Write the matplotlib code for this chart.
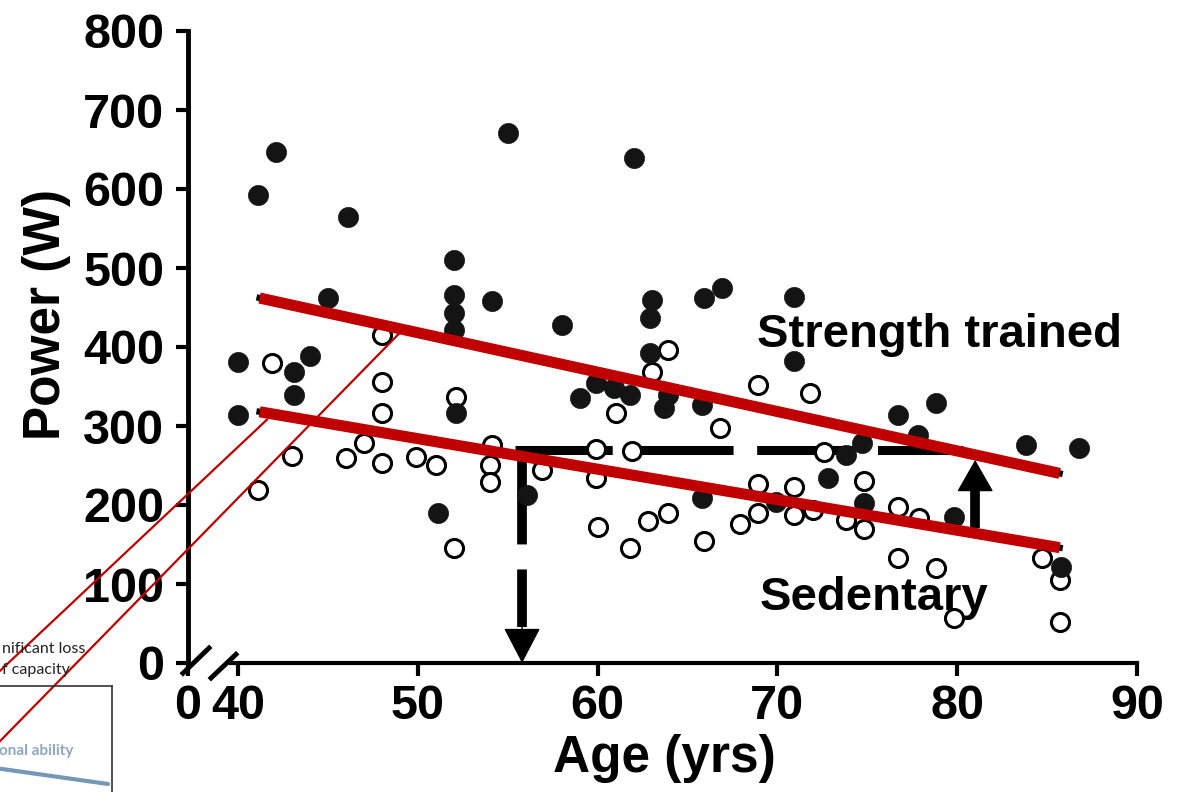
import matplotlib
matplotlib.use('Agg')
import matplotlib.pyplot as plt

plt.rcParams['font.family'] = ['Liberation Sans', 'DejaVu Sans']
plt.rcParams['font.weight'] = 'bold'
plt.rcParams['lines.scale_dashes'] = False

# strength trained (filled circles)
trained_age = [42.1, 41.1, 46.1, 55.0, 52.0, 45.0, 52.0, 52.0, 52.0, 54.1, 58.0,
               40.0, 44.0, 43.1, 43.1, 40.0, 52.1, 56.1, 51.1,
               62.0, 63.0, 62.9, 65.9, 66.9, 70.9, 70.9, 62.9, 59.9, 60.9, 59.0, 61.8, 63.9,
               63.7, 65.8, 76.7, 73.8, 74.7, 65.8, 72.8, 69.9, 74.8,
               78.8, 77.8, 83.8, 86.8, 79.8, 85.8]
trained_power = [647, 592, 565, 671, 510, 462, 466, 443, 422, 458, 428,
                 381, 389, 368, 339, 314, 316, 213, 190,
                 639, 459, 437, 462, 475, 463, 382, 392, 354, 348, 335, 339, 339,
                 323, 327, 314, 263, 278, 209, 234, 204, 203,
                 329, 289, 276, 272, 185, 122]

# sedentary (open circles)
sed_age = [48.0, 41.9, 48.0, 48.0, 52.1, 43.0, 47.0, 46.0, 48.0, 49.9, 51.0, 54.1, 54.0, 54.0,
           56.9, 41.1, 52.0,
           63.9, 63.0, 68.9, 71.8,
           61.0, 66.8, 59.9, 61.9, 72.6, 59.9, 68.9, 70.9, 74.8, 68.9, 70.9, 72.0, 73.8, 74.8,
           76.7, 76.7, 60.0, 62.8, 63.9, 67.9, 61.8, 65.9,
           77.9, 78.8, 84.7, 85.7, 79.8, 85.7]
sed_power = [415, 380, 356, 316, 337, 262, 278, 260, 253, 261, 251, 276, 251, 229,
             244, 219, 146,
             396, 368, 352, 342,
             316, 297, 271, 268, 267, 234, 226, 223, 230, 190, 187, 194, 181, 169,
             197, 133, 172, 180, 190, 176, 146, 154,
             183, 120, 133, 105, 57, 52]

# regression lines (red overlay)
fit_age = [41.2, 85.7]
trained_fit = [462, 240]
sedentary_fit = [318, 146]

# thin red pointer lines
pointer_s_age = [26.76, 41.61]
pointer_s_power = [-10, 308]
pointer_t_age = [26.76, 49.0]
pointer_t_power = [-99, 418]

# dashed guide + arrows
guide_power = 270
guide_age = [55.4, 80.3]
down_age = 55.8
up_age = 81.0
up_from, up_to = 171, 257

x_ticks = [40, 50, 60, 70, 80, 90]
y_ticks = [0, 100, 200, 300, 400, 500, 600, 700, 800]
x_left = 37.22

fig = plt.figure(figsize=(11.79, 7.92), dpi=100)
ax = fig.add_axes([188/1179, 129/792, 949/1179, 632/792])
ax.set_xlim(x_left, 90)
ax.set_ylim(0, 800)

for s in ['top', 'right']:
    ax.spines[s].set_visible(False)
ax.spines['left'].set_linewidth(3.5)
ax.spines['bottom'].set_linewidth(3)
ax.spines['bottom'].set_bounds(39.6, 90)

ax.set_xticks([x_left] + x_ticks)
ax.set_xticklabels(['0'] + [str(t) for t in x_ticks])
ax.set_yticks(y_ticks)
ax.set_yticklabels([str(t) for t in y_ticks])
ax.tick_params(axis='both', direction='out', length=9, width=3, labelsize=35)
ax.tick_params(axis='x', pad=6)
ax.tick_params(axis='y', pad=8)

# axis break marks
ax.plot([36.94, 38.39], [-13, 19], color='black', lw=3.5, clip_on=False, zorder=4)
ax.plot([38.50, 39.89], [-19, 11], color='black', lw=3.5, clip_on=False, zorder=4)

ax.set_xlabel('Age (yrs)', fontsize=37, fontweight='bold')
ax.xaxis.set_label_coords(0.5016, -0.1725)
ax.xaxis.label.set_verticalalignment('baseline')
ax.set_ylabel('Power (W)', fontsize=37, fontweight='bold')
ax.yaxis.set_label_coords(-0.1496, 0.551)
ax.yaxis.label.set_verticalalignment('center')

# dashed guide lines
ax.plot(guide_age, [guide_power, guide_power], color='black', lw=6.5,
        dashes=(70, 17), solid_capstyle='butt', zorder=2)
ax.plot([down_age, down_age], [guide_power, 45], color='black', lw=7,
        dashes=(68, 18), zorder=2)
ax.annotate('', xy=(down_age, 0), xytext=(down_age, 50),
            arrowprops=dict(arrowstyle='-|>,head_length=23,head_width=12',
                            mutation_scale=1, lw=1, color='black',
                            shrinkA=0, shrinkB=0), zorder=2)
ax.plot([up_age, up_age], [up_from, up_to - 30], color='black', lw=7,
        solid_capstyle='butt', zorder=2)
ax.annotate('', xy=(up_age, up_to), xytext=(up_age, up_to - 40),
            arrowprops=dict(arrowstyle='-|>,head_length=21,head_width=12',
                            mutation_scale=1, lw=1, color='black',
                            shrinkA=0, shrinkB=0), zorder=2)

# data points
ax.plot(sed_age, sed_power, 'o', ms=13, mfc='white', mec='black', mew=2.2, zorder=3)
ax.plot(trained_age, trained_power, 'o', ms=14.5, mfc='#141414', mec='#141414', mew=0.5, zorder=3)

# original black fits peeking out under the red overlay
ax.plot(fit_age, trained_fit, color='black', lw=4.5, solid_capstyle='projecting', zorder=4)
ax.plot(fit_age, sedentary_fit, color='black', lw=4.5, solid_capstyle='projecting', zorder=4)
ax.plot(fit_age, trained_fit, color='#c00000', lw=8, solid_capstyle='butt', zorder=5)
ax.plot(fit_age, sedentary_fit, color='#c00000', lw=8, solid_capstyle='butt', zorder=5)

ax.plot(pointer_s_age, pointer_s_power, color='#c00000', lw=1.6, clip_on=False, zorder=6)
ax.plot(pointer_t_age, pointer_t_power, color='#c00000', lw=1.6, clip_on=False, zorder=6)

ax.text(68.87, 400, 'Strength trained', fontsize=34, ha='left', va='baseline')
ax.text(69.03, 67, 'Sedentary', fontsize=34, ha='left', va='baseline')

# cropped slide inset at bottom-left (only the visible part of its text)
fig.text(85/1179, 1 - 653/792, 'nificant loss', fontsize=11.5, fontweight='normal',
         family='Lato', ha='right', va='baseline', color='#222222')
fig.text(70/1179, 1 - 674/792, 'f capacity', fontsize=11.5, fontweight='normal',
         family='Lato', ha='right', va='baseline', color='#222222')

ins = fig.add_axes([0, 0, 112/1179, 106/792])
ins.set_facecolor('none')
ins.set_xlim(0, 112)
ins.set_ylim(106, 0)
ins.set_xticks([])
ins.set_yticks([])
for s in ['left', 'bottom']:
    ins.spines[s].set_visible(False)
for s in ['right', 'top']:
    ins.spines[s].set_linewidth(1.2)
    ins.spines[s].set_color('#333333')
ins.plot([-5, 108], [82, 98], color='#7597b8', lw=3, solid_capstyle='round', clip_on=False)
ins.text(73, 69, 'onal ability', fontsize=11, fontweight='bold', family='Lato',
         color='#8ea6c2', ha='right', va='baseline')

fig.savefig('out.png', dpi=100)
